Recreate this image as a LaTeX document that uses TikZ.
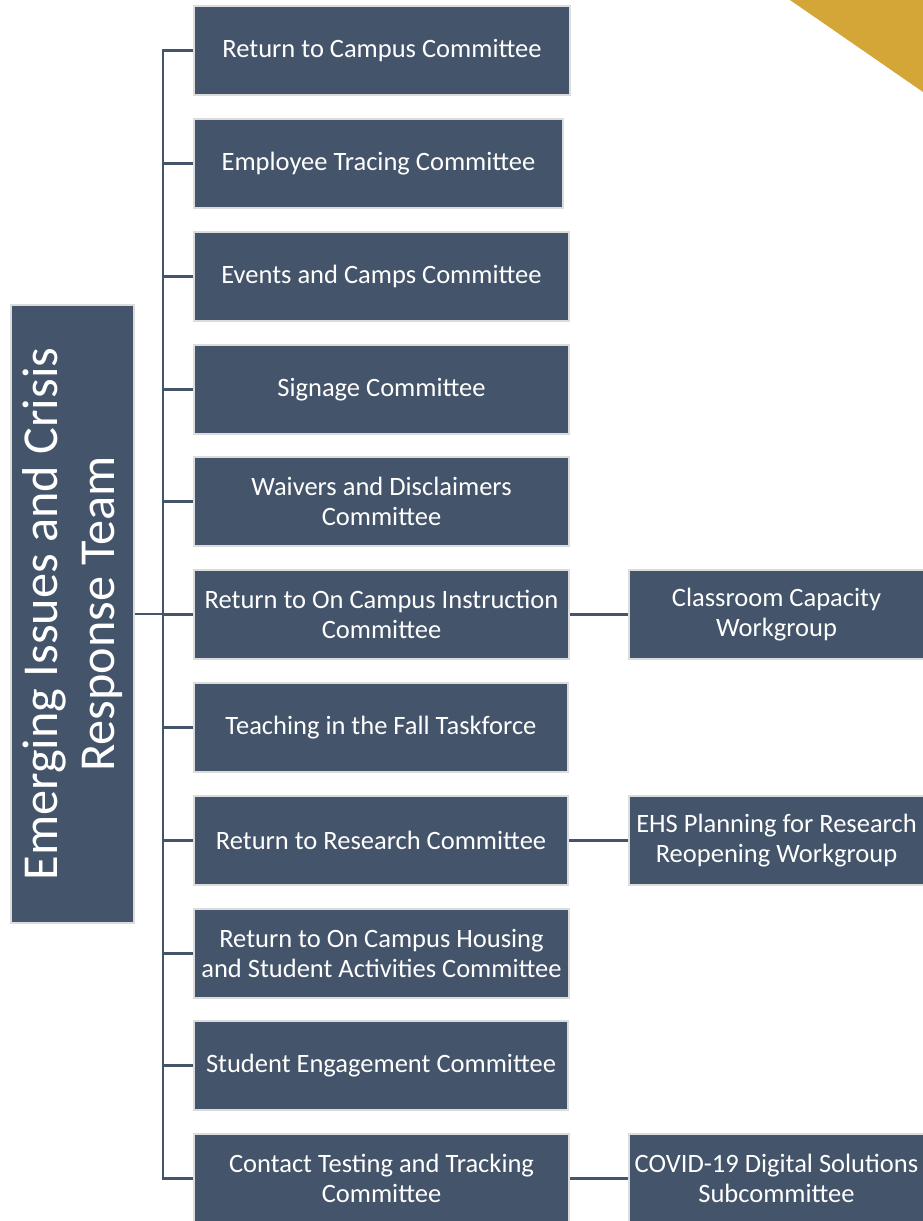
\documentclass[tikz,border=0pt]{standalone}
\usepackage{fontspec}
\setmainfont{Carlito}
\definecolor{boxc}{HTML}{44546A}
\definecolor{edgec}{HTML}{DCDCDC}
\definecolor{goldc}{HTML}{D4A537}
\begin{document}
\begin{tikzpicture}[x=1pt,y=-1pt,
  cbox/.style={draw=edgec,line width=2pt,fill=boxc,anchor=north west,inner sep=0pt},
  ctext/.style={text=white,align=center,font=\fontsize{26.5}{29.5}\selectfont},
  link/.style={draw=boxc,line width=2.2pt}]
\useasboundingbox (0,0) rectangle (923,1221);
\fill[goldc] (790,0) -- (923,0) -- (923,92) -- cycle;
% left box
\node[cbox,minimum width=123pt,minimum height=618pt] (team) at (10,304) {};
\node[text=white,rotate=90,align=center,font=\fontsize{50.3}{57}\selectfont] (teamtxt) at (team.center) {Emerging Issues and Crisis\\Response Team};
% middle boxes
\foreach \n/\y/\w/\t in {
 c1/5/376/{Return to Campus Committee},
 c2/118/369/{Employee Tracing Committee},
 c3/231/375/{Events and Camps Committee},
 c4/344/375/{Signage Committee},
 c5/456/375/{Waivers and Disclaimers\\Committee},
 c6/569/375/{Return to On Campus Instruction\\Committee},
 c7/682/374/{Teaching in the Fall Taskforce},
 c8/795/374/{Return to Research Committee},
 c9/908/375/{Return to On Campus Housing\\and Student Activities Committee},
 c10/1020/374/{Student Engagement Committee},
 c11/1133/375/{Contact Testing and Tracking\\Committee}}{
  \node[cbox,minimum width=\w pt,minimum height=89pt] (\n) at (193,\y) {};
  \node[ctext] at (\n.center) {\t};
}
% right boxes
\foreach \n/\y/\t in {
 w1/569/{Classroom Capacity\\Workgroup},
 w2/795/{EHS Planning for Research\\Reopening Workgroup},
 w3/1133/{COVID-19 Digital Solutions\\Subcommittee}}{
  \node[cbox,minimum width=295pt,minimum height=89pt] (\n) at (628,\y) {};
  \node[ctext] at (\n.center) {\t};
}
% spine
\draw[link] (c1.west) -- (163,0 |- c1.west) -- (163,0 |- c11.west) -- (c11.west);
\foreach \n in {c2,c3,c4,c5,c6,c7,c8,c9,c10}{
  \draw[link] (\n.west) -- ++(-30,0);
}
\draw[link] (team.east) -- ++(30,0);
\draw[link] (c6.east) -- (w1.west);
\draw[link] (c8.east) -- (w2.west);
\draw[link] (c11.east) -- (w3.west);
\end{tikzpicture}
\end{document}
